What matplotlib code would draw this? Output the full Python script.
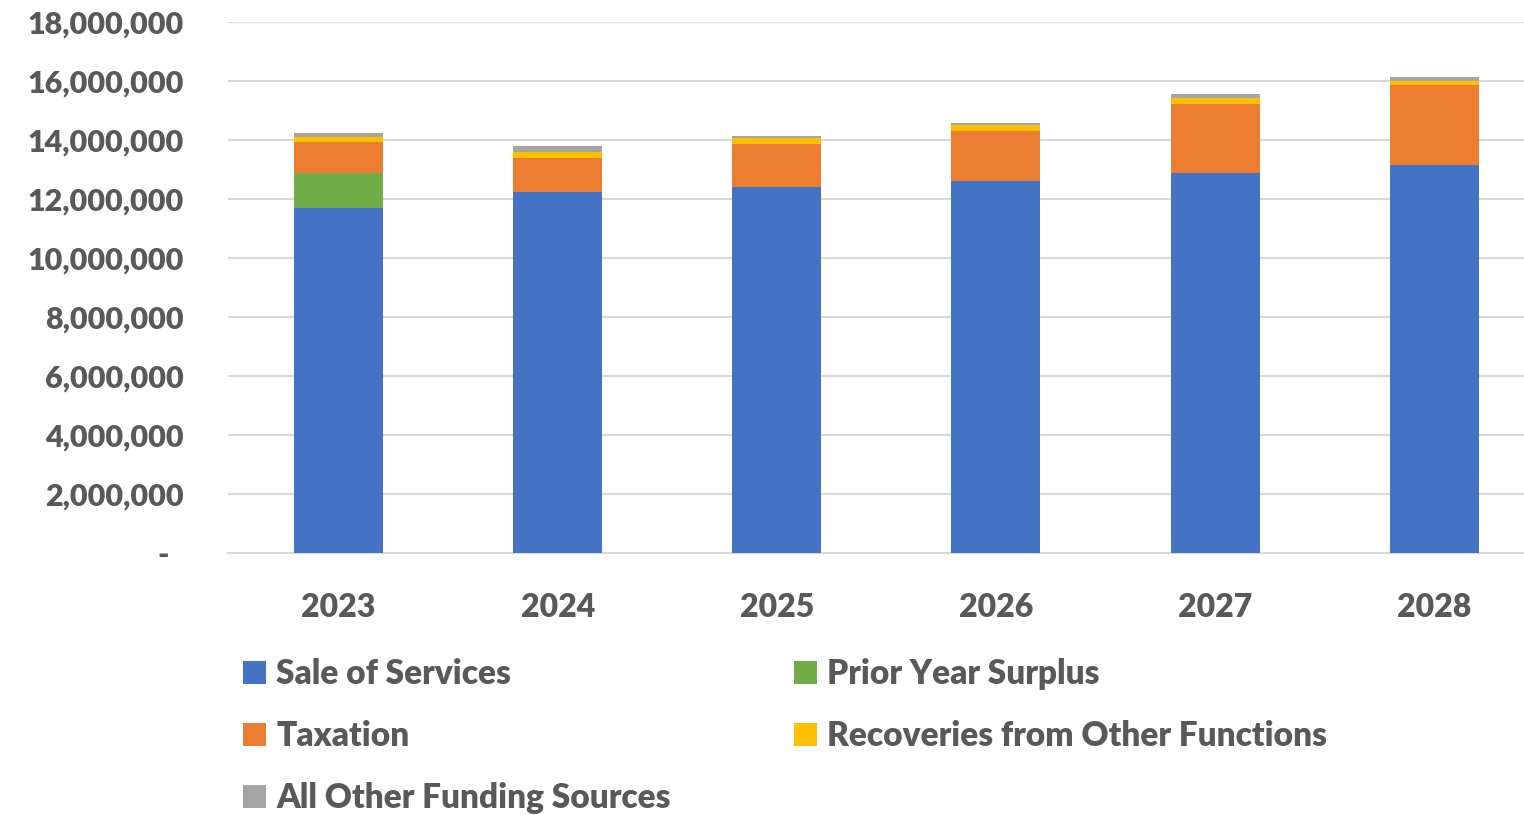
import matplotlib
matplotlib.use("Agg")
import matplotlib.pyplot as plt
from matplotlib.ticker import FuncFormatter
import numpy as np

plt.rcParams["font.family"] = ["Lato", "DejaVu Sans"]
plt.rcParams["font.weight"] = "heavy"

years = ["2023", "2024", "2025", "2026", "2027", "2028"]
sale_of_services = [11.70e6, 12.24e6, 12.41e6, 12.61e6, 12.88e6, 13.15e6]
prior_year_surplus = [1.17e6, 0, 0, 0, 0, 0]
taxation = [1.06e6, 1.15e6, 1.46e6, 1.70e6, 2.34e6, 2.71e6]
recoveries = [0.17e6, 0.21e6, 0.20e6, 0.20e6, 0.20e6, 0.14e6]
all_other = [0.13e6, 0.20e6, 0.07e6, 0.07e6, 0.14e6, 0.13e6]

series = [
    ("Sale of Services", sale_of_services, "#4472C4"),
    ("Prior Year Surplus", prior_year_surplus, "#70AD47"),
    ("Taxation", taxation, "#ED7D31"),
    ("Recoveries from Other Functions", recoveries, "#FFC000"),
    ("All Other Funding Sources", all_other, "#A5A5A5"),
]

text_color = "#595959"
grid_color = "#D9D9D9"

fig = plt.figure(figsize=(15.24, 8.15), dpi=100)
ax = fig.add_axes([0.1496, 0.3215, 0.8504, 0.6515])

x = np.arange(len(years))
bottom = np.zeros(len(years))
handles = {}
for name, vals, color in series:
    bars = ax.bar(x, vals, width=0.406, bottom=bottom, color=color, label=name, zorder=3)
    handles[name] = bars
    bottom += np.array(vals)

ax.set_ylim(0, 18e6)
ax.set_xlim(-0.505, 5.41)
ax.set_yticks(np.arange(0, 18e6 + 1, 2e6))
ax.yaxis.set_major_formatter(
    FuncFormatter(lambda v, p: "-  " if v == 0 else f"{v:,.0f}")
)
ax.set_xticks(x)
ax.set_xticklabels(years)

ax.grid(axis="y", color=grid_color, linewidth=1.5, zorder=0)
for s in ["top", "right", "left"]:
    ax.spines[s].set_visible(False)
ax.spines["bottom"].set_color(grid_color)
ax.spines["bottom"].set_linewidth(1.5)
ax.tick_params(axis="both", length=0, labelcolor=text_color)
ax.tick_params(axis="y", labelsize=22, pad=32)
ax.tick_params(axis="x", labelsize=23, pad=29)

# column-major order so the rows read like the original legend
order = ["Sale of Services", "Taxation", "All Other Funding Sources",
         "Prior Year Surplus", "Recoveries from Other Functions"]
leg = fig.legend(
    [handles[n] for n in order], order,
    loc="upper left", bbox_to_anchor=(0.140, 0.229), ncol=2,
    frameon=False, fontsize=24, labelcolor=text_color,
    handlelength=0.68, handleheight=0.68, handletextpad=0.3,
    columnspacing=3.7, labelspacing=0.9,
)

fig.savefig("out.png", dpi=100)
